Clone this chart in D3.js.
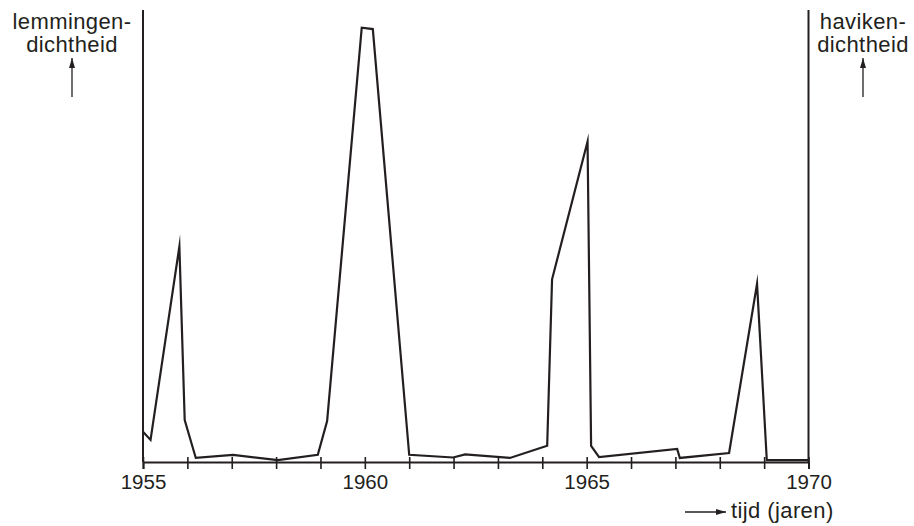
<!DOCTYPE html>
<html>
<head>
<meta charset="utf-8">
<script src="https://cdn.jsdelivr.net/npm/d3@7"></script>
<style>
  body { margin: 0; background: #fff; }
  text { font-family: "Liberation Sans", Arial, sans-serif; fill: #231f20; }
</style>
</head>
<body>
<div class="chart"></div>
<script>
// jaartal en lemmingendichtheid (relatieve eenheden, 0-100)
const years = [1955.0, 1955.17, 1955.82, 1955.94, 1956.19, 1957.03, 1958.04, 1958.94, 1959.15,
  1959.93, 1960.18, 1961.0, 1961.99, 1962.26, 1963.27, 1964.11, 1964.22, 1965.02, 1965.10,
  1965.28, 1967.04, 1967.10, 1968.21, 1968.84, 1969.06, 1970.0];
const density = [6.7, 4.9, 47.9, 9.3, 0.9, 1.6, 0.4, 1.6, 9.1,
  96.5, 96.2, 1.6, 1.0, 1.7, 0.9, 3.6, 40.6, 71.2, 3.6,
  1.1, 2.9, 0.9, 2.0, 39.6, 0.4, 0.4];
const tickYears = d3.range(1955, 1971);
const labelYears = [1955, 1960, 1965, 1970];
const leftLabel = ["lemmingen-", "dichtheid"];
const rightLabel = ["haviken-", "dichtheid"];
const xLabel = "tijd (jaren)";

const W = 914, H = 526;
const margin = { top: 10, left: 143, right: 105.5, bottom: 64 };
const ink = "#231f20";

const svg = d3.select(".chart").append("svg")
  .attr("width", W).attr("height", H);

const x = d3.scaleLinear().domain([1955, 1970]).range([margin.left, W - margin.right]);
const y = d3.scaleLinear().domain([0, 100]).range([H - margin.bottom, 12]);

// vertical axes
[x(1955), x(1970)].forEach(px => {
  svg.append("line")
    .attr("x1", px).attr("x2", px)
    .attr("y1", margin.top).attr("y2", y(0))
    .attr("stroke", ink).attr("stroke-width", 2);
});

// time axis
const xAxis = svg.append("g")
  .attr("transform", `translate(0,${y(0)})`)
  .call(d3.axisBottom(x).tickValues(tickYears).tickSize(7)
    .tickFormat(d => labelYears.includes(d) ? d : ""));
xAxis.select(".domain").attr("stroke", ink).attr("stroke-width", 2);
xAxis.selectAll(".tick line").attr("y1", -5).attr("stroke", ink).attr("stroke-width", 1.6);
xAxis.selectAll(".tick text")
  .attr("y", 27).attr("dy", null)
  .style("font-size", "20.5px")
  .style("font-family", '"Liberation Sans", Arial, sans-serif')
  .attr("fill", ink);

// data line
const line = d3.line()
  .x((d, i) => x(years[i]))
  .y(d => y(d));

svg.append("path")
  .datum(density)
  .attr("fill", "none")
  .attr("stroke", ink)
  .attr("stroke-width", 2.2)
  .attr("stroke-linejoin", "miter")
  .attr("stroke-miterlimit", 20)
  .attr("d", line);

// arrowhead
svg.append("defs").append("marker")
  .attr("id", "arrow")
  .attr("viewBox", "0 0 10 6")
  .attr("refX", 10).attr("refY", 3)
  .attr("markerWidth", 10).attr("markerHeight", 6)
  .attr("markerUnits", "userSpaceOnUse")
  .attr("orient", "auto")
  .append("path")
  .attr("d", "M0,0L10,3L0,6Z")
  .attr("fill", ink);

function sideLabel(lines, cx) {
  const t = svg.append("text")
    .attr("text-anchor", "middle")
    .style("font-size", "22px")
    .style("letter-spacing", "0.4px");
  lines.forEach((s, i) => {
    t.append("tspan").attr("x", cx).attr("y", 29 + i * 23).text(s);
  });
  svg.append("line")
    .attr("x1", cx).attr("x2", cx)
    .attr("y1", 97).attr("y2", 58)
    .attr("stroke", ink).attr("stroke-width", 1.3)
    .attr("marker-end", "url(#arrow)");
}
sideLabel(leftLabel, 72);
sideLabel(rightLabel, 863);

svg.append("line")
  .attr("x1", 685).attr("x2", 726)
  .attr("y1", 512).attr("y2", 512)
  .attr("stroke", ink).attr("stroke-width", 1.3)
  .attr("marker-end", "url(#arrow)");

svg.append("text")
  .attr("x", 731).attr("y", 518)
  .style("font-size", "22px")
  .style("letter-spacing", "0.4px")
  .text(xLabel);
</script>
</body>
</html>
